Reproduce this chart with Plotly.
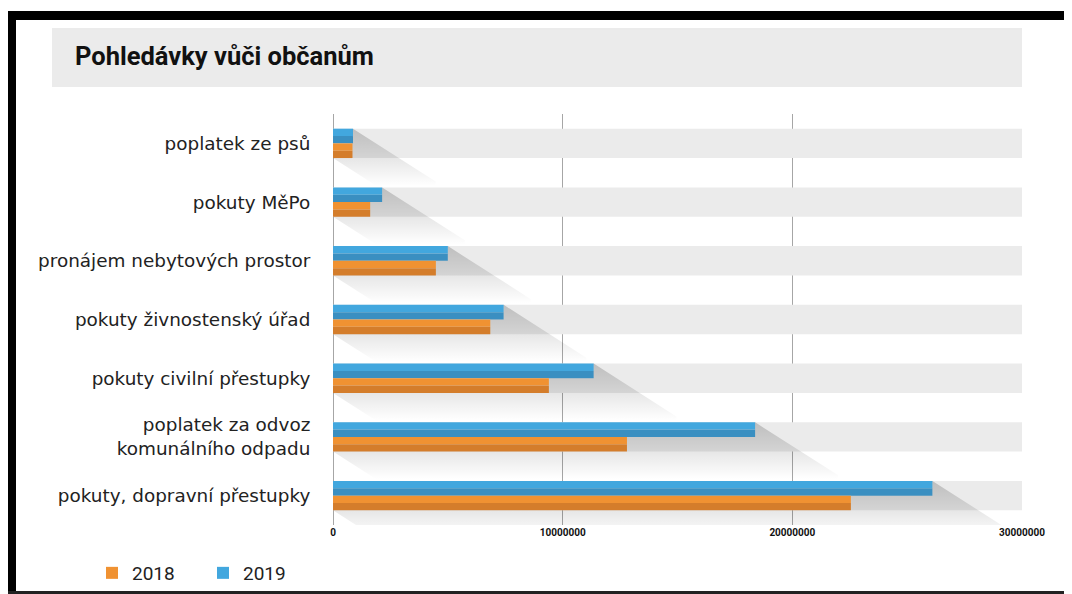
import plotly.graph_objects as go

# ---------------- data ----------------
categories = [
    "poplatek ze psů",
    "pokuty MěPo",
    "pronájem nebytových prostor",
    "pokuty živnostenský úřad",
    "pokuty civilní přestupky",
    "poplatek za odvoz<br>komunálního odpadu",
    "pokuty, dopravní přestupky",
]
values_2018 = [850000, 1620000, 4480000, 6850000, 9400000, 12800000, 22550000]
values_2019 = [870000, 2140000, 5000000, 7430000, 11350000, 18380000, 26100000]
x_ticks = [0, 10000000, 20000000, 30000000]
x_max = 30000000

# ---------------- layout geometry helpers ----------------
# the page body adds an 8px margin, so the figure is drawn 8px smaller
OFF = 8
W, H = 1072 - OFF, 594 - OFF
ML, MR, MT, MB = 333 - OFF, 50, 114 - OFF, 69
PW, PH = W - ML - MR, H - MT - MB


def px(xp):
    """reference-window x pixel -> paper x"""
    return (xp - OFF - ML) / PW


def py(yp):
    """reference-window y pixel -> paper y"""
    return (H - MB - (yp - OFF)) / PH


pos = list(range(len(categories)))

BLUE_L, BLUE_D = "#42a7de", "#3a8fc1"
ORANGE_L, ORANGE_D = "#f09232", "#d47d2b"
BAND = "#ebebeb"

fig = go.Figure()

# background band behind every category (full scale)
fig.add_trace(go.Bar(
    y=pos, x=[x_max] * len(pos), orientation="h",
    width=0.5, offset=-0.25, marker=dict(color=BAND, line=dict(width=0)),
    showlegend=False, hoverinfo="skip",
))

# 2019 (upper bar, two tones)
fig.add_trace(go.Bar(
    y=pos, x=values_2019, orientation="h", name="2019", legendgroup="2019",
    width=0.125, offset=-0.25, marker=dict(color=BLUE_L, line=dict(width=0)),
    legendrank=2,
))
fig.add_trace(go.Bar(
    y=pos, x=values_2019, orientation="h", name="2019", legendgroup="2019",
    width=0.125, offset=-0.125, marker=dict(color=BLUE_D, line=dict(width=0)),
    showlegend=False,
))
# 2018 (lower bar, two tones)
fig.add_trace(go.Bar(
    y=pos, x=values_2018, orientation="h", name="2018", legendgroup="2018",
    width=0.125, offset=0.0, marker=dict(color=ORANGE_L, line=dict(width=0)),
    legendrank=1,
))
fig.add_trace(go.Bar(
    y=pos, x=values_2018, orientation="h", name="2018", legendgroup="2018",
    width=0.125, offset=0.125, marker=dict(color=ORANGE_D, line=dict(width=0)),
    showlegend=False,
))

# long diagonal shadows, computed from bar values
SDX = 3600000
SDY = 0.9
for i, xb, xo in zip(pos, values_2019, values_2018):
    yt, ym, yb = i - 0.25, i, i + 0.25
    xs = [xb, xb + SDX, xb + SDX, SDX, 0, xo, xo, xb, xb]
    ys = [yt, yt + SDY, yb + SDY, yb + SDY, yb, yb, ym, ym, yt]
    fig.add_trace(go.Scatter(
        x=xs, y=ys, mode="lines", fill="toself", line=dict(width=0),
        fillcolor="rgba(0,0,0,0)",
        fillgradient=dict(
            type="vertical", start=yt, stop=i + 0.72,
            colorscale=[[0, "rgba(0,0,0,0.19)"], [0.5, "rgba(0,0,0,0.10)"],
                        [1, "rgba(0,0,0,0)"]],
        ),
        showlegend=False, hoverinfo="skip",
    ))

shapes = [
    # title box
    dict(type="rect", xref="paper", yref="paper", x0=px(52), x1=px(1022),
         y0=py(87), y1=py(28), fillcolor="#ebebeb", line=dict(width=0),
         layer="below"),
    # frame
    dict(type="rect", xref="paper", yref="paper", x0=px(8), x1=px(16),
         y0=py(594), y1=py(11), fillcolor="#000", line=dict(width=0)),
    dict(type="rect", xref="paper", yref="paper", x0=px(8), x1=px(1072),
         y0=py(20), y1=py(11), fillcolor="#000", line=dict(width=0)),
    dict(type="rect", xref="paper", yref="paper", x0=px(8), x1=px(1072),
         y0=py(594), y1=py(591), fillcolor="#222", line=dict(width=0)),
]

fig.update_layout(
    width=W, height=H,
    margin=dict(l=ML, r=MR, t=MT, b=MB, autoexpand=False),
    paper_bgcolor="white", plot_bgcolor="white",
    barmode="overlay",
    title=dict(
        text="<b>Pohledávky vůči občanům</b>",
        xref="container", yref="container",
        x=(75 - OFF) / W, y=1 - (56 - OFF) / H,
        xanchor="left", yanchor="middle",
        font=dict(family="Roboto", size=25.5, color="#111"),
    ),
    shapes=shapes,
    showlegend=True,
    legend=dict(
        orientation="h", x=px(92), y=py(573), xanchor="left", yanchor="middle",
        font=dict(family="Roboto", size=19, color="#222"),
        traceorder="normal", bgcolor="rgba(0,0,0,0)",
        entrywidth=66, entrywidthmode="pixels",
    ),
    xaxis=dict(
        range=[0, x_max], tickvals=x_ticks, tickformat="d",
        showgrid=True, gridcolor="#a6a6a6", gridwidth=1,
        zeroline=True, zerolinecolor="#a6a6a6", zerolinewidth=1,
        showline=False, ticks="",
        tickfont=dict(family="Roboto", size=10, color="#111", weight="bold"),
        fixedrange=True,
    ),
    yaxis=dict(
        range=[6.5, -0.5], tickvals=pos, ticktext=categories,
        showgrid=False, zeroline=False, showline=False,
        ticks="outside", ticklen=18, tickcolor="rgba(0,0,0,0)",
        tickfont=dict(family="DejaVu Sans", size=18.4, color="#222"),
        fixedrange=True,
    ),
)

fig.write_html("out.html")
